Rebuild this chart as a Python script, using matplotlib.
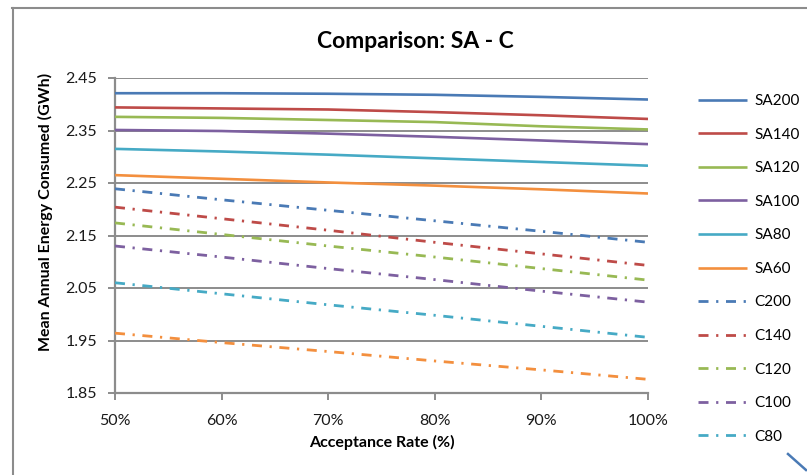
import matplotlib
matplotlib.use("Agg")
import matplotlib.pyplot as plt
from matplotlib.lines import Line2D

plt.rcParams['font.family'] = ['Lato', 'DejaVu Sans']
plt.rcParams['lines.scale_dashes'] = False

# Acceptance rate (%) on the x axis
acceptance = [50, 60, 70, 80, 90, 100]

# Mean annual energy consumed (GWh), SA scheme
sa200 = [2.421, 2.421, 2.420, 2.418, 2.414, 2.409]
sa140 = [2.394, 2.392, 2.390, 2.385, 2.379, 2.372]
sa120 = [2.376, 2.374, 2.370, 2.366, 2.358, 2.352]
sa100 = [2.351, 2.349, 2.344, 2.338, 2.331, 2.324]
sa80 = [2.315, 2.310, 2.304, 2.297, 2.290, 2.283]
sa60 = [2.265, 2.258, 2.251, 2.245, 2.238, 2.230]

# Mean annual energy consumed (GWh), C scheme
c200 = [2.239, 2.218, 2.198, 2.178, 2.158, 2.137]
c140 = [2.204, 2.182, 2.160, 2.137, 2.115, 2.093]
c120 = [2.174, 2.152, 2.130, 2.109, 2.087, 2.065]
c100 = [2.130, 2.109, 2.087, 2.066, 2.044, 2.023]
c80 = [2.060, 2.039, 2.018, 1.998, 1.977, 1.956]
c60 = [1.964, 1.946, 1.929, 1.911, 1.894, 1.876]

sa_series = [("SA200", sa200), ("SA140", sa140), ("SA120", sa120),
             ("SA100", sa100), ("SA80", sa80), ("SA60", sa60)]
c_series = [("C200", c200), ("C140", c140), ("C120", c120),
            ("C100", c100), ("C80", c80), ("C60", c60)]

y_ticks = [1.85, 1.95, 2.05, 2.15, 2.25, 2.35, 2.45]
x_ticks = [50, 60, 70, 80, 90, 100]

colors = ["#4a7ab5", "#be4b48", "#98b954", "#7d60a0", "#46aac5", "#f38f3e"]

W, H = 807, 475
fig = plt.figure(figsize=(W / 100, H / 100), dpi=100)
fig.patch.set_facecolor("white")

left, right, top, bottom = 115, 648, 78, 393
ax = fig.add_axes([left / W, 1 - bottom / H, (right - left) / W, (bottom - top) / H])

grid_col = "#8c8c8c"
handles = []
for (name, vals), col in zip(sa_series, colors):
    h, = ax.plot(acceptance, vals, color=col, lw=1.9, solid_capstyle="butt",
                 label=name, zorder=3)
    handles.append(h)
dash = (0, (7.2, 5.5, 1.6, 5.5))
for (name, vals), col in zip(c_series, colors):
    h, = ax.plot(acceptance, vals, color=col, lw=2.0, linestyle=dash,
                 dash_capstyle="butt", label=name, zorder=3)
    handles.append(h)

ax.set_xlim(50, 100)
ax.set_ylim(1.85, 2.45)
ax.set_yticks(y_ticks)
ax.set_yticklabels([f"{v:.2f}" for v in y_ticks])
ax.set_xticks(x_ticks)
ax.set_xticklabels([f"{v}%" for v in x_ticks])
ax.yaxis.grid(True, color=grid_col, lw=1.4, zorder=1)
ax.set_axisbelow(True)
for s in ["top", "right"]:
    ax.spines[s].set_visible(False)
for s in ["left", "bottom"]:
    ax.spines[s].set_color(grid_col)
    ax.spines[s].set_linewidth(1.6)
ax.tick_params(axis="both", color=grid_col, width=1.4, length=5,
               labelsize=11.5, labelcolor="#1a1a1a")
ax.tick_params(axis="y", pad=8)
ax.tick_params(axis="x", pad=10)

ax.set_xlabel("Acceptance Rate (%)", fontsize=11.5, fontweight="bold", labelpad=5)
ax.set_ylabel("Mean Annual Energy Consumed (GWh)", fontsize=11.5,
              fontweight="bold")
ax.yaxis.set_label_coords((53 - left) / (right - left), (bottom - 212) / (bottom - top))

fig.text(415 / W, 1 - 41 / H, "Comparison: SA - C",
         ha="center", va="center", fontsize=16.5, fontweight="bold")

# legend lists all series but the last one (cut by the chart frame)
leg = fig.legend(handles=handles[:11], loc="upper left",
                 bbox_to_anchor=(692 / W, 1 - 88 / H), frameon=False,
                 fontsize=11, handlelength=3.2, handletextpad=0.5,
                 labelspacing=1.28, borderaxespad=0)

# chart frame and connector stub
fig.add_artist(Line2D([12.5 / W, 12.5 / W], [0, 1 - 8 / H], transform=fig.transFigure,
                      color="#8c8c8c", lw=1.5))
fig.add_artist(Line2D([12 / W, 1], [1 - 8 / H, 1 - 8 / H], transform=fig.transFigure,
                      color="#8c8c8c", lw=1.5))
fig.add_artist(Line2D([788 / W, 806 / W], [1 - 454 / H, 1 - 470 / H],
                      transform=fig.transFigure, color="#4a7ab5", lw=1.8))

fig.savefig("out.png", dpi=100)
